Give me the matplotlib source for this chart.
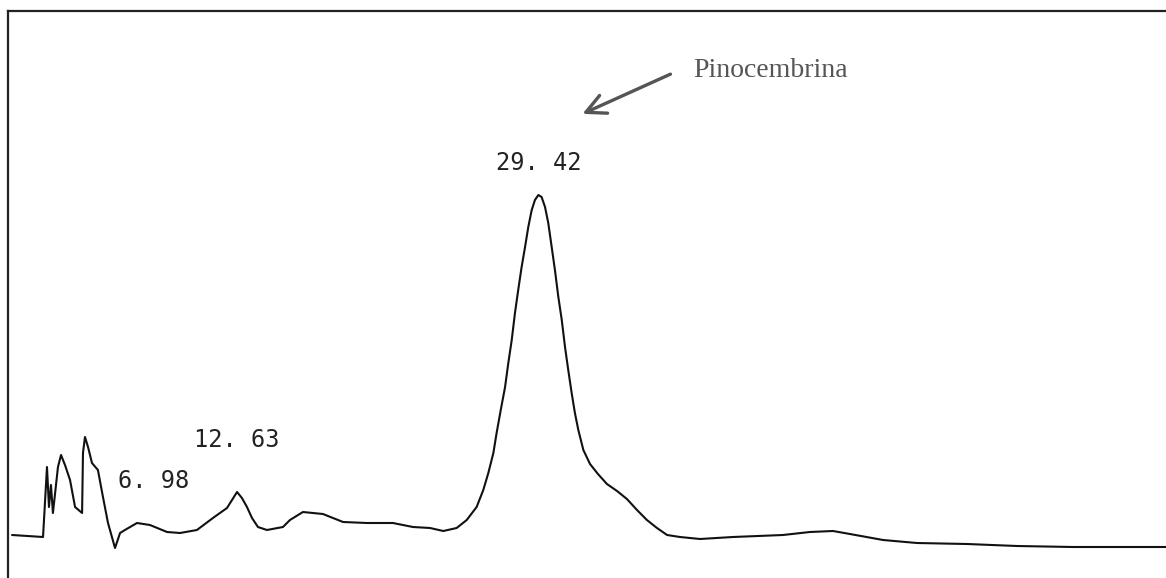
import matplotlib
matplotlib.use("Agg")
import matplotlib.pyplot as plt

# retention time (min) and detector signal (arbitrary units)
time_min = [0.17, 1.89, 2.11, 2.22, 2.33, 2.44, 2.72, 2.89, 3.11, 3.39, 3.67, 4.06,
            4.11, 4.22, 4.39, 4.61, 4.94, 5.22, 5.50, 5.89, 6.17, 6.44, 7.11, 7.83,
            8.78, 9.50, 10.44, 11.33, 12.11, 12.39, 12.67, 12.94, 13.22, 13.50, 13.83,
            14.33, 15.22, 15.61, 16.33, 17.44, 18.56, 19.89, 21.33, 22.44, 23.39, 24.13,
            24.87, 25.43, 25.98, 26.35, 26.63, 26.91, 27.09, 27.32, 27.56, 27.74, 27.93,
            28.11, 28.29, 28.48, 28.67, 28.85, 29.04, 29.22, 29.41, 29.59, 29.78, 29.96,
            30.15, 30.33, 30.52, 30.71, 30.89, 31.07, 31.26, 31.44, 31.63, 31.91, 32.28,
            32.72, 33.22, 33.78, 34.33, 34.89, 35.44, 36.00, 36.56, 37.28, 38.39, 40.22,
            43.00, 44.50, 45.78, 46.72, 48.56, 50.44, 53.22, 56.00, 59.11, 64.28]
signal = [12, 10, 80, 40, 62, 34, 80, 92, 82, 67, 40, 34,
          94, 110, 100, 84, 77, 50, 24, -1, 14, 17, 24, 22,
          15, 14, 17, 29, 39, 47, 55, 49, 40, 29, 20,
          17, 20, 27, 35, 33, 25, 24, 24, 20, 19, 16,
          19, 27, 40, 57, 74, 94, 114, 137, 160, 184, 207,
          234, 257, 280, 300, 320, 337, 347, 352, 350, 340, 324,
          300, 277, 250, 227, 200, 177, 154, 134, 117, 97, 83,
          73, 63, 56, 48, 37, 27, 19, 12, 10, 8, 10,
          12, 15, 16, 13, 7, 4, 3, 1, 0, 0]

peak_times = [6.98, 12.63, 29.42]
peak_labels = ["6. 98", "12. 63", "29. 42"]
peak_heights = [24, 55, 352]
label_offsets = [(-17, 30), (0, 40), (0, 20)]
label_align = ["left", "center", "center"]

fig = plt.figure(figsize=(11.66, 5.78), dpi=100)
ax = fig.add_axes([8 / 1166, 0, 1 - 8 / 1166, 567 / 578])

ax.plot(time_min, signal, color="#111111", lw=1.5,
        solid_joinstyle="round", solid_capstyle="round")

for t, lab, h, off, ha in zip(peak_times, peak_labels, peak_heights, label_offsets, label_align):
    ax.annotate(lab, xy=(t, h), xytext=off, textcoords="offset pixels",
                ha=ha, va="bottom", fontsize=17, family="DejaVu Sans Mono",
                color="#222222")

# arrow pointing at the main peak
ax.annotate("", xy=(31.72, 432), xytext=(36.89, 474),
            arrowprops=dict(arrowstyle="->,head_length=0.7,head_width=0.35",
                            lw=2.4, color="#555555", mutation_scale=20))
ax.text(38.0, 470, "Pinocembrina", family="Liberation Serif", fontsize=20,
        color="#555555", va="baseline", ha="left")

ax.set_xlim(-0.056, 64.28)
ax.set_ylim(-31, 536)
ax.set_xticks([])
ax.set_yticks([])
for side in ["right", "bottom"]:
    ax.spines[side].set_visible(False)
for side in ["left", "top"]:
    ax.spines[side].set_color("#222222")
    ax.spines[side].set_linewidth(1.6)

fig.savefig("out.png", dpi=100)
